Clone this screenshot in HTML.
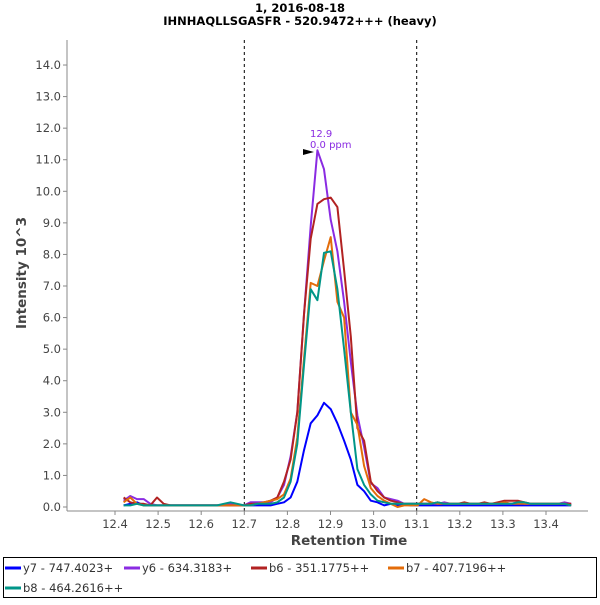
<!DOCTYPE html>
<html><head><meta charset="utf-8"><style>
body{margin:0;background:#fff;font-family:"Liberation Sans","DejaVu Sans",sans-serif}
svg text{font-family:"DejaVu Sans","Liberation Sans",sans-serif}
</style></head><body>
<svg id="c" width="600" height="600" xmlns="http://www.w3.org/2000/svg">
<rect width="600" height="600" fill="#fff"/>
<text x="300" y="12" text-anchor="middle" font-size="11.5" font-weight="bold" fill="#000">1, 2016-08-18</text>
<text x="300" y="25" text-anchor="middle" font-size="11.5" font-weight="bold" fill="#000">IHNHAQLLSGASFR - 520.9472+++ (heavy)</text>
<g id="grid"></g>
<g id="series"></g>
<g id="axes"></g>
<text x="349" y="545" text-anchor="middle" font-size="13.5" font-weight="bold" fill="#444">Retention Time</text>
<text transform="translate(26,273) rotate(-90)" text-anchor="middle" font-size="13.5" font-weight="bold" fill="#444">Intensity 10^3</text>
<g>
<text x="310" y="137" font-size="10" fill="#8a2be2">12.9</text>
<text x="310" y="148" font-size="10" fill="#8a2be2">0.0 ppm</text>
<polygon points="303,149 303,155 314,152" fill="#000"/>
</g>
<rect x="3.5" y="557.5" width="593" height="40" fill="none" stroke="#000"/>
<g id="legend"></g>
</svg>
<script>
const times=[];for(let i=0;i<68;i++)times.push(12.42+i*0.0155);
const seriesNames=["y7 - 747.4023+","y6 - 634.3183+","b6 - 351.1775++","b7 - 407.7196++","b8 - 464.2616++"];
const seriesColors=["#0000ff","#8a2be2","#b22222","#e36c0a","#009688"];
const y7=[0.05,0.1,0.15,0.05,0.05,0.05,0.05,0.05,0.05,0.05,0.05,0.05,0.05,0.05,0.05,0.05,0.05,0.05,0.05,0.05,0.05,0.05,0.05,0.1,0.15,0.3,0.8,1.8,2.65,2.9,3.3,3.1,2.65,2.1,1.5,0.7,0.5,0.2,0.15,0.05,0.1,0.05,0.08,0.05,0.05,0.05,0.05,0.05,0.05,0.05,0.05,0.05,0.05,0.05,0.05,0.05,0.05,0.05,0.05,0.05,0.05,0.05,0.05,0.05,0.05,0.05,0.05,0.05];
const y6=[0.2,0.35,0.25,0.25,0.1,0.05,0.05,0.05,0.05,0.05,0.05,0.05,0.05,0.05,0.05,0.05,0.1,0.05,0.05,0.15,0.15,0.15,0.15,0.3,0.7,1.6,3.0,6.1,8.9,11.3,10.7,9.1,8.1,6.5,4.6,2.9,1.9,0.75,0.6,0.3,0.25,0.2,0.1,0.1,0.1,0.1,0.1,0.1,0.15,0.1,0.1,0.1,0.1,0.1,0.1,0.1,0.1,0.1,0.1,0.15,0.1,0.1,0.1,0.1,0.1,0.1,0.15,0.1];
const b6=[0.3,0.15,0.1,0.1,0.05,0.3,0.1,0.05,0.05,0.05,0.05,0.05,0.05,0.05,0.05,0.05,0.05,0.05,0.05,0.1,0.1,0.15,0.2,0.3,0.8,1.5,3.0,6.1,8.5,9.6,9.75,9.8,9.5,7.5,5.4,2.5,2.1,0.8,0.5,0.3,0.2,0.15,0.1,0.1,0.1,0.1,0.1,0.15,0.1,0.1,0.1,0.15,0.1,0.1,0.15,0.1,0.15,0.2,0.2,0.2,0.15,0.1,0.1,0.1,0.1,0.1,0.1,0.1];
const b7=[0.15,0.3,0.1,0.05,0.05,0.05,0.05,0.05,0.05,0.05,0.05,0.05,0.05,0.05,0.05,0.05,0.05,0.05,0.05,0.05,0.1,0.15,0.2,0.25,0.4,0.9,2.2,4.7,7.1,7.0,7.8,8.55,6.5,6.0,3.0,2.6,1.3,0.6,0.35,0.2,0.1,0.0,0.05,0.05,0.05,0.25,0.15,0.1,0.1,0.1,0.1,0.1,0.1,0.1,0.1,0.1,0.1,0.15,0.1,0.1,0.1,0.1,0.1,0.1,0.1,0.1,0.1,0.05];
const b8=[0.05,0.05,0.1,0.05,0.05,0.05,0.05,0.05,0.05,0.05,0.05,0.05,0.05,0.05,0.05,0.1,0.15,0.1,0.05,0.05,0.1,0.1,0.1,0.15,0.3,0.8,2.0,4.5,6.9,6.55,8.05,8.1,6.9,5.0,3.0,1.2,0.7,0.4,0.2,0.15,0.1,0.1,0.1,0.1,0.1,0.1,0.1,0.15,0.1,0.1,0.1,0.1,0.1,0.1,0.1,0.1,0.1,0.1,0.1,0.15,0.15,0.1,0.1,0.1,0.1,0.1,0.1,0.05];
const seriesValues=[y7,y6,b6,b7,b8];
const xTicks=[12.4,12.5,12.6,12.7,12.8,12.9,13.0,13.1,13.2,13.3,13.4];
const yTicks=[0,1,2,3,4,5,6,7,8,9,10,11,12,13,14];
const markerLines=[12.7,13.1];
const NS="http://www.w3.org/2000/svg";
const L=67,R=588,T=40,B=511;
const X=t=>115+(t-12.4)*431;
const Y=v=>507-v*31.57;
function mk(tag,attrs,parent){const e=document.createElementNS(NS,tag);for(const k in attrs)e.setAttribute(k,attrs[k]);parent.appendChild(e);return e;}
const axes=document.getElementById('axes'),grid=document.getElementById('grid'),ser=document.getElementById('series'),leg=document.getElementById('legend');
let e=mk('line',{x1:L,y1:T,x2:L,y2:B,stroke:'#888'},axes);


e=mk('line',{x1:L,y1:B,x2:R,y2:B,stroke:'#888'},axes);


yTicks.forEach(v=>{
 const y=Y(v);
 mk('line',{x1:L-4,y1:y,x2:L,y2:y,stroke:'#888'},axes);
 const t=mk('text',{x:L-6,y:y+4,'text-anchor':'end','font-size':'11.5',fill:'#444'},axes);
 t.textContent=v.toFixed(1);
 
 
});
xTicks.forEach(v=>{
 const x=X(v);
 mk('line',{x1:x,y1:B,x2:x,y2:B+4,stroke:'#888'},axes);
 const t=mk('text',{x:x,y:B+17,'text-anchor':'middle','font-size':'11.5',fill:'#444'},axes);
 t.textContent=v.toFixed(1);
 
 
});
markerLines.forEach(v=>{
 const l=mk('line',{x1:X(v),y1:T,x2:X(v),y2:B,stroke:'#000','stroke-dasharray':'3,3','stroke-width':1},grid);
 
 
});
seriesValues.forEach((vals,s)=>{
 const d=vals.map((v,i)=>(i?'L':'M')+X(times[i]).toFixed(1)+','+Y(v).toFixed(1)).join(' ');
 const p=mk('path',{d:d,fill:'none',stroke:seriesColors[s],'stroke-width':2,'stroke-linejoin':'round'},ser);
 
 
});
const legPos=[[4,568],[123,568],[250,568],[387,568],[4,588]];
seriesNames.forEach((n,s)=>{
 const [x,y]=legPos[s];
 const g=mk('g',{},leg);
 
 
 mk('line',{x1:x+1,y1:y,x2:x+17,y2:y,stroke:seriesColors[s],'stroke-width':3},g);
 const t=mk('text',{x:x+19,y:y+4,'font-size':'11.5',fill:'#333'},g);
 t.textContent=n;
});
</script>
</body></html>
